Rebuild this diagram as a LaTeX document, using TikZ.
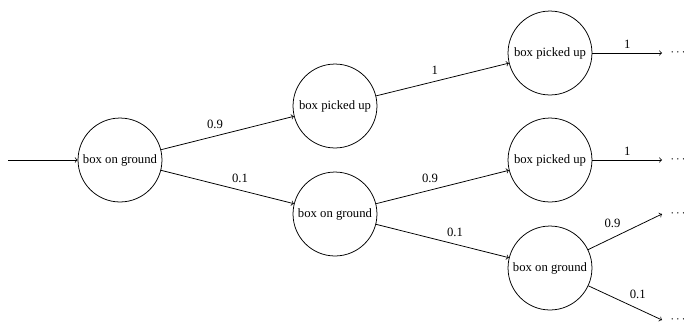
\documentclass[tikz,border=0pt]{standalone}
\usepackage{fontspec}
\setmainfont{Liberation Serif}
\begin{document}
\begin{tikzpicture}[x=0.7874pt,y=-0.7874pt,
  every node/.style={font=\fontsize{10}{12}\selectfont},
  state/.style={circle,draw,minimum size=66.1pt,inner sep=0pt,line width=0.6pt},
  flow/.style={->,line width=0.6pt},
  prob/.style={auto,inner sep=3.3pt}]
\useasboundingbox (0,0) rectangle (684,322);

% states of the tree
\node[state] (g0) at (120,160) {box on ground};
\node[state] (p1) at (335,106) {box picked up};
\node[state] (g1) at (335,214) {box on ground};
\node[state] (p2) at (550,53)  {box picked up};
\node[state] (p3) at (550,160) {box picked up};
\node[state] (g2) at (550,268) {box on ground};

% loose ends of the tree
\coordinate (start) at (8,160);
\coordinate (e1) at (662,53);
\coordinate (e2) at (662,160);
\coordinate (e3) at (662,214);
\coordinate (e4) at (662,320);
\node (d1) at (678,53)  {$\cdots$};
\node (d2) at (678,160) {$\cdots$};
\node (d3) at (678,214) {$\cdots$};
\node (d4) at (678,320) {$\cdots$};

% transitions
\draw[flow] (start) -- (g0);
\draw[flow] (g0) -- node[prob] {0.9} (p1);
\draw[flow] (g0) -- node[prob] {0.1} (g1);
\draw[flow] (p1) -- node[prob] {1} (p2);
\draw[flow] (g1) -- node[prob] {0.9} (p3);
\draw[flow] (g1) -- node[prob] {0.1} (g2);
\draw[flow] (p2) -- node[prob] {1} (e1);
\draw[flow] (p3) -- node[prob] {1} (e2);
\draw[flow] (g2) -- node[prob] {0.9} (e3);
\draw[flow] (g2) -- node[prob] {0.1} (e4);
\end{tikzpicture}
\end{document}
